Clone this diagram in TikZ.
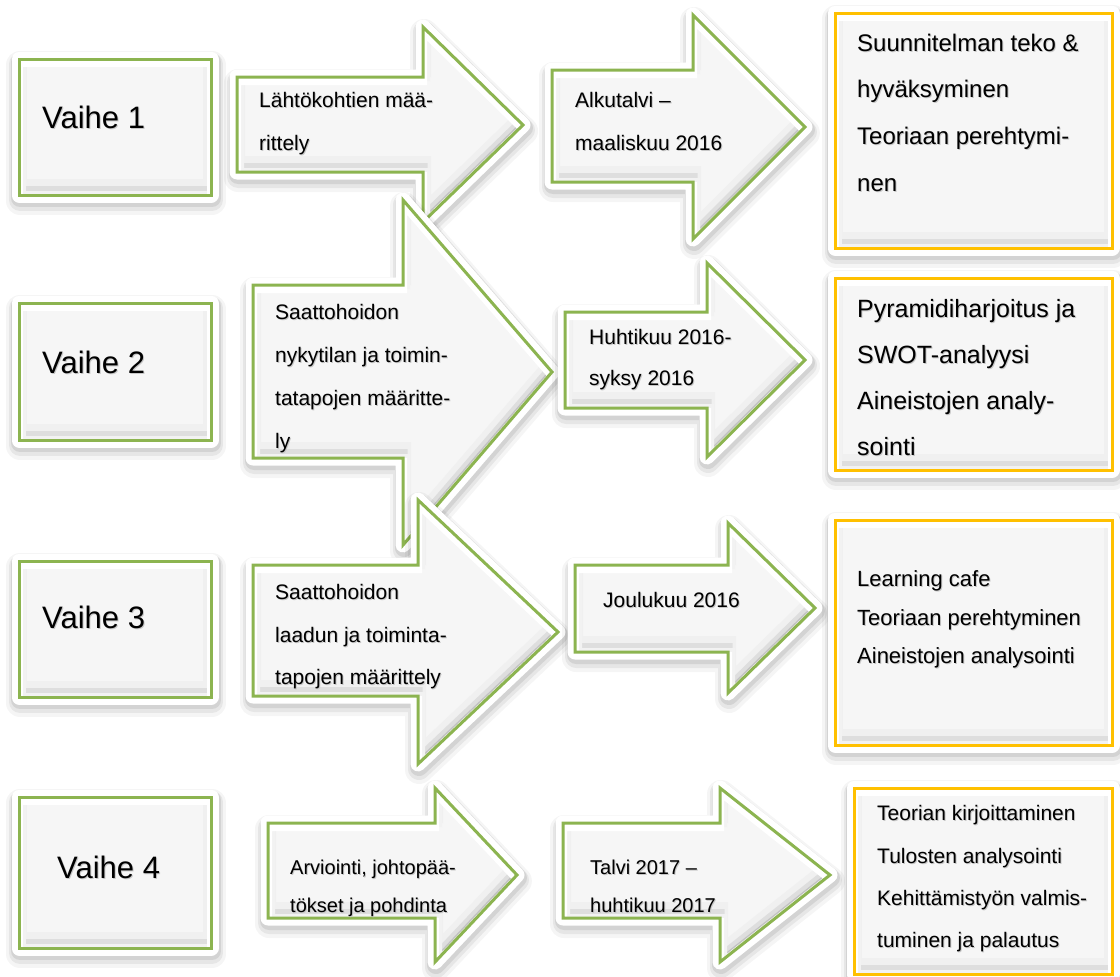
\documentclass[tikz,border=0pt]{standalone}
\usepackage{fontspec}
\setmainfont{Liberation Sans}
\definecolor{grn}{RGB}{140,180,80}
\definecolor{gold}{RGB}{255,192,0}
\definecolor{panel}{RGB}{246,246,246}
\newcommand\shtext[1]{\rlap{\raisebox{-1.2pt}{\hspace{1pt}\textcolor{black!22}{#1}}}#1}
\tikzset{
  vtxt/.style={anchor=base west, inner sep=0pt, font=\fontsize{31}{36}\selectfont},
  atxt/.style={anchor=base west, inner sep=0pt, font=\fontsize{21}{25}\selectfont},
  stxt/.style={anchor=base west, inner sep=0pt, font=\fontsize{20}{24}\selectfont},
  rtxt/.style={anchor=base west, inner sep=0pt, font=\fontsize{24}{28}\selectfont},
  rtxtb/.style={anchor=base west, inner sep=0pt, font=\fontsize{25}{29}\selectfont},
  rtxtc/.style={anchor=base west, inner sep=0pt, font=\fontsize{22}{26}\selectfont},
  rtxtd/.style={anchor=base west, inner sep=0pt, font=\fontsize{21}{25}\selectfont},
}
\newcommand\DrawShape[2]{%
  \draw[black,opacity=.04,line width=28,line join=round,shift={(1,6)}] #2;
  \draw[black,opacity=.06,line width=22,line join=round,shift={(1,5)}] #2;
  \draw[black,opacity=.08,line width=18,line join=round,shift={(1,3)}] #2;
  \filldraw[white,line width=15,line join=round] #2;
  \fill[panel] #2;
  \begin{scope}
    \clip #2;
    \draw[black!6,line width=16,shift={(0,-8)}] #2;
    \draw[black!13,line width=9,shift={(0,-4.5)}] #2;
    \draw[black!24,line width=4,shift={(0,-2)}] #2;
    \draw[black!5,line width=8,shift={(3,0)}] #2;
    \draw[white,line width=8,shift={(0,4)}] #2;
  \end{scope}
  \draw[#1,line width=3,line join=miter] #2;
}
\begin{document}
\begin{tikzpicture}[x=1pt,y=-1pt]
\useasboundingbox (0,0) rectangle (1120,977);
\fill[white] (0,0) rectangle (1120,977);

% ---------- Row 1 ----------
\DrawShape{grn}{(19,59) rectangle (211,195)}
\node[vtxt] (v1) at (42,128) {\shtext{Vaihe 1}};
\DrawShape{grn}{(237,77) -- (423,77) -- (423,27) -- (523,125) -- (423,222) -- (423,172) -- (237,172) -- cycle}
\node[atxt] (a1a) at (259,107.5) {\shtext{Lähtökohtien mää-}};
\node[atxt] (a1b) at (259,150.5) {\shtext{rittely}};
\DrawShape{grn}{(552,70) -- (693,70) -- (693,15) -- (805,127) -- (693,239) -- (693,182) -- (552,182) -- cycle}
\node[atxt] (a2a) at (575,107.5) {\shtext{Alkutalvi –}};
\node[atxt] (a2b) at (575,150.5) {\shtext{maaliskuu 2016}};
\DrawShape{gold}{(835,13) rectangle (1112,248)}
\node[rtxt] (r1a) at (857,51.6) {\shtext{Suunnitelman teko \&}};
\node[rtxt] (r1b) at (857,97.6) {\shtext{hyväksyminen}};
\node[rtxt] (r1c) at (857,144.6) {\shtext{Teoriaan perehtymi-}};
\node[rtxt] (r1d) at (857,191.6) {\shtext{nen}};

% ---------- Row 2 ----------
\DrawShape{grn}{(19,303) rectangle (211,440)}
\node[vtxt] (v2) at (42,373) {\shtext{Vaihe 2}};
\DrawShape{grn}{(253,285) -- (403,285) -- (403,200) -- (552,372) -- (403,545) -- (403,458) -- (253,458) -- cycle}
\node[atxt] (a3a) at (275,319.5) {\shtext{Saattohoidon}};
\node[atxt] (a3b) at (275,362.5) {\shtext{nykytilan ja toimin-}};
\node[atxt] (a3c) at (275,405.5) {\shtext{tatapojen määritte-}};
\node[atxt] (a3d) at (275,448.5) {\shtext{ly}};
\DrawShape{grn}{(565,312) -- (707,312) -- (707,263) -- (805,360) -- (707,457) -- (707,408) -- (565,408) -- cycle}
\node[atxt] (a4a) at (589,344.5) {\shtext{Huhtikuu 2016-}};
\node[atxt] (a4b) at (589,385.5) {\shtext{syksy 2016}};
\DrawShape{gold}{(835,278) rectangle (1112,470)}
\node[rtxtb] (r2a) at (857,317) {\shtext{Pyramidiharjoitus ja}};
\node[rtxtb] (r2b) at (857,363) {\shtext{SWOT-analyysi}};
\node[rtxtb] (r2c) at (857,409) {\shtext{Aineistojen analy-}};
\node[rtxtb] (r2d) at (857,455) {\shtext{sointi}};

% ---------- Row 3 ----------
\DrawShape{grn}{(19,561) rectangle (211,697)}
\node[vtxt] (v3) at (42,628) {\shtext{Vaihe 3}};
\DrawShape{grn}{(253,565) -- (418,565) -- (418,500) -- (558,632) -- (418,764) -- (418,696) -- (253,696) -- cycle}
\node[atxt] (a5a) at (275,599.5) {\shtext{Saattohoidon}};
\node[atxt] (a5b) at (275,642) {\shtext{laadun ja toiminta-}};
\node[atxt] (a5c) at (275,684.5) {\shtext{tapojen määrittely}};
\DrawShape{grn}{(575,565) -- (728,565) -- (728,523) -- (815,608) -- (728,693) -- (728,652) -- (575,652) -- cycle}
\node[atxt] (a6a) at (603,607.5) {\shtext{Joulukuu 2016}};
\DrawShape{gold}{(835,520) rectangle (1112,745)}
\node[rtxtc] (r3a) at (857,586) {\shtext{Learning cafe}};
\node[rtxtc] (r3b) at (857,625) {\shtext{Teoriaan perehtyminen}};
\node[rtxtc] (r3c) at (857,663) {\shtext{Aineistojen analysointi}};

% ---------- Row 4 ----------
\DrawShape{grn}{(19,797) rectangle (211,948)}
\node[vtxt] (v4) at (57,878) {\shtext{Vaihe 4}};
\DrawShape{grn}{(268,823) -- (435,823) -- (435,788) -- (517,875) -- (435,962) -- (435,918) -- (268,918) -- cycle}
\node[stxt] (a7a) at (290,874) {\shtext{Arviointi, johtopää-}};
\node[stxt] (a7b) at (290,912) {\shtext{tökset ja pohdinta}};
\DrawShape{grn}{(563,823) -- (720,823) -- (720,788) -- (830,875) -- (720,962) -- (720,918) -- (563,918) -- cycle}
\node[stxt] (a8a) at (590,874) {\shtext{Talvi 2017 –}};
\node[stxt] (a8b) at (590,912) {\shtext{huhtikuu 2017}};
\DrawShape{gold}{(854,788) rectangle (1112,974)}
\node[rtxtd] (r4a) at (877,820.5) {\shtext{Teorian kirjoittaminen}};
\node[rtxtd] (r4b) at (877,863.5) {\shtext{Tulosten analysointi}};
\node[rtxtd] (r4c) at (877,905.5) {\shtext{Kehittämistyön valmis-}};
\node[rtxtd] (r4d) at (877,947.5) {\shtext{tuminen ja palautus}};
\end{tikzpicture}
\end{document}
